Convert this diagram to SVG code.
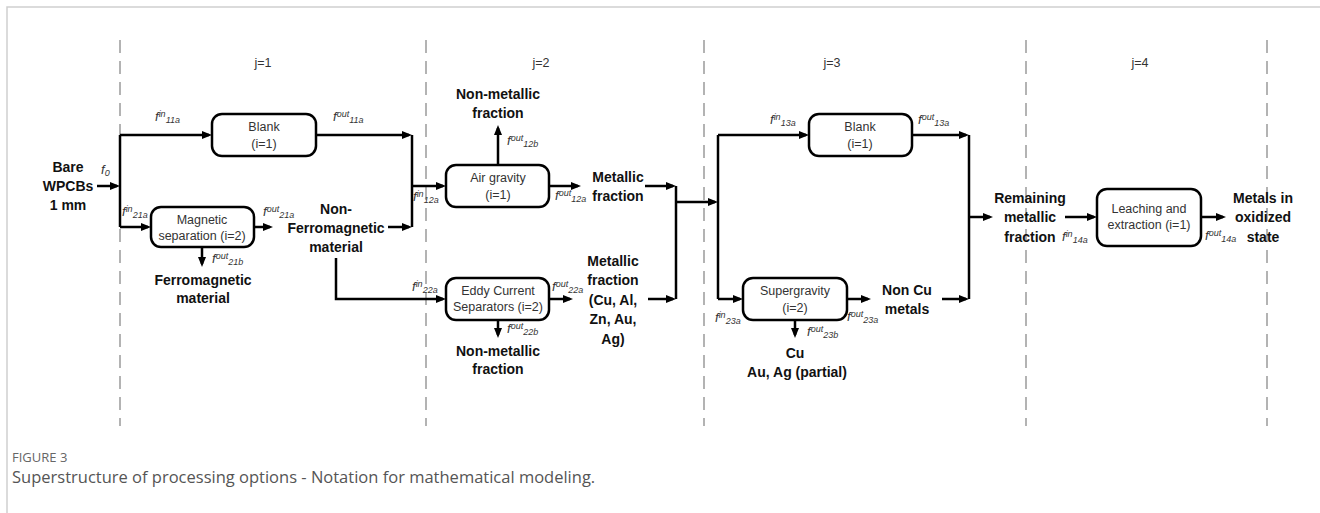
<svg xmlns="http://www.w3.org/2000/svg" width="1320" height="513" viewBox="0 0 1320 513">
<defs>
<marker id="ah" markerUnits="userSpaceOnUse" markerWidth="11" markerHeight="9" refX="7" refY="4" orient="auto">
<path d="M0,0 L10,4 L0,8 z" fill="#000"/>
</marker>
<style>
.frame{stroke:#cfcfcf;stroke-width:1.5;fill:none}
.dash{stroke:#b3b3b3;stroke-width:2;stroke-dasharray:13 8;fill:none}
.box{fill:#fff;stroke:#000;stroke-width:2.5}
.ln{stroke:#000;stroke-width:2.5;fill:none}
.arr{stroke:#000;stroke-width:2.5;fill:none;marker-end:url(#ah)}
.bt{font-family:"Liberation Sans",Arial,sans-serif;font-size:12.5px;fill:#333;text-anchor:middle}
.bold{font-family:"Liberation Sans",Arial,sans-serif;font-size:14px;font-weight:bold;fill:#111;text-anchor:middle}
.j{font-family:"Liberation Sans",Arial,sans-serif;font-size:12.5px;fill:#333;text-anchor:middle}
.f{font-family:"Liberation Sans",Arial,sans-serif;font-size:13px;font-style:italic;fill:#333}
.s{font-size:9px}
.cap1{font-family:"Open Sans","Liberation Sans",sans-serif;font-size:13px;fill:#666}
.cap2{font-family:"Open Sans","Liberation Sans",sans-serif;font-size:16.5px;fill:#555}
</style>
</defs>
<g id="frame">
<polyline class="frame" points="7,513 7,7 1320,7"/>
</g>
<g id="stages">
<line class="dash" x1="120" y1="40" x2="120" y2="426"/>
<line class="dash" x1="426" y1="40" x2="426" y2="426"/>
<line class="dash" x1="704" y1="40" x2="704" y2="426"/>
<line class="dash" x1="1026" y1="40" x2="1026" y2="426"/>
<line class="dash" x1="1267" y1="40" x2="1267" y2="426"/>
<text class="j" x="263" y="67">j=1</text>
<text class="j" x="541" y="67">j=2</text>
<text class="j" x="832" y="67">j=3</text>
<text class="j" x="1140" y="67">j=4</text>
</g>
<g id="connectors">
<line class="arr" x1="97" y1="186" x2="117" y2="186"/>
<polyline class="ln" points="120,135 120,227"/>
<line class="arr" x1="120" y1="135" x2="209" y2="135"/>
<line class="arr" x1="120" y1="227" x2="148" y2="227"/>
<line class="arr" x1="316" y1="135" x2="409" y2="135"/>
<line class="arr" x1="254" y1="227" x2="270" y2="227"/>
<line class="arr" x1="202" y1="247" x2="202" y2="264"/>
<line class="arr" x1="388" y1="227" x2="409" y2="227"/>
<polyline class="ln" points="412,135 412,227"/>
<line class="arr" x1="412" y1="186" x2="443" y2="186"/>
<polyline class="arr" points="336,258 336,299 443,299"/>
<line class="arr" x1="498" y1="165" x2="498" y2="128"/>
<line class="arr" x1="549" y1="186" x2="578" y2="186"/>
<line class="arr" x1="549" y1="299" x2="570" y2="299"/>
<line class="arr" x1="498" y1="320" x2="498" y2="335"/>
<line class="arr" x1="645" y1="186" x2="673" y2="186"/>
<line class="arr" x1="648" y1="299" x2="673" y2="299"/>
<polyline class="ln" points="676,186 676,299"/>
<line class="arr" x1="676" y1="202" x2="715" y2="202"/>
<polyline class="ln" points="718,135 718,299"/>
<line class="arr" x1="718" y1="135" x2="806" y2="135"/>
<line class="arr" x1="718" y1="299" x2="740" y2="299"/>
<line class="arr" x1="912" y1="135" x2="966" y2="135"/>
<line class="arr" x1="847" y1="299" x2="868" y2="299"/>
<line class="arr" x1="795" y1="320" x2="795" y2="335"/>
<line class="arr" x1="942" y1="299" x2="966" y2="299"/>
<polyline class="ln" points="969,135 969,299"/>
<line class="arr" x1="969" y1="217" x2="990" y2="217"/>
<line class="arr" x1="1065" y1="217" x2="1094" y2="217"/>
<line class="arr" x1="1201" y1="217" x2="1223" y2="217"/>
</g>
<g id="n_blank1">
<rect class="box" x="212" y="114" width="104" height="42" rx="10"/>
<text class="bt" x="264" y="131">Blank</text>
<text class="bt" x="264" y="148">(i=1)</text>
</g>
<g id="n_magnetic">
<rect class="box" x="151" y="207" width="103" height="40" rx="10"/>
<text class="bt" x="202" y="224">Magnetic</text>
<text class="bt" x="202" y="240">separation (i=2)</text>
</g>
<g id="n_air">
<rect class="box" x="446" y="165" width="103" height="42" rx="10"/>
<text class="bt" x="498" y="182">Air gravity</text>
<text class="bt" x="498" y="199">(i=1)</text>
</g>
<g id="n_eddy">
<rect class="box" x="446" y="278" width="103" height="42" rx="10"/>
<text class="bt" x="498" y="295">Eddy Current</text>
<text class="bt" x="498" y="311">Separators (i=2)</text>
</g>
<g id="n_blank3">
<rect class="box" x="809" y="114" width="103" height="42" rx="10"/>
<text class="bt" x="860" y="131">Blank</text>
<text class="bt" x="860" y="148">(i=1)</text>
</g>
<g id="n_super">
<rect class="box" x="743" y="278" width="104" height="42" rx="10"/>
<text class="bt" x="795" y="295">Supergravity</text>
<text class="bt" x="795" y="312">(i=2)</text>
</g>
<g id="n_leach">
<rect class="box" x="1097" y="189" width="104" height="57" rx="10"/>
<text class="bt" x="1149" y="213">Leaching and</text>
<text class="bt" x="1149" y="229">extraction (i=1)</text>
</g>
<g id="streams">
<text class="bold" x="68" y="172">Bare</text>
<text class="bold" x="68" y="191">WPCBs</text>
<text class="bold" x="68" y="210">1 mm</text>
<text class="bold" x="203" y="285">Ferromagnetic</text>
<text class="bold" x="203" y="303">material</text>
<text class="bold" x="336" y="214">Non-</text>
<text class="bold" x="336" y="233">Ferromagnetic</text>
<text class="bold" x="336" y="252">material</text>
<text class="bold" x="498" y="99">Non-metallic</text>
<text class="bold" x="498" y="118">fraction</text>
<text class="bold" x="618" y="182">Metallic</text>
<text class="bold" x="618" y="201">fraction</text>
<text class="bold" x="613" y="266">Metallic</text>
<text class="bold" x="613" y="285">fraction</text>
<text class="bold" x="613" y="305">(Cu, Al,</text>
<text class="bold" x="613" y="324">Zn, Au,</text>
<text class="bold" x="613" y="344">Ag)</text>
<text class="bold" x="498" y="356">Non-metallic</text>
<text class="bold" x="498" y="374">fraction</text>
<text class="bold" x="907" y="295">Non Cu</text>
<text class="bold" x="907" y="314">metals</text>
<text class="bold" x="795" y="358">Cu</text>
<text class="bold" x="797" y="377">Au, Ag (partial)</text>
<text class="bold" x="1030" y="203">Remaining</text>
<text class="bold" x="1030" y="222">metallic</text>
<text class="bold" x="1030" y="242">fraction</text>
<text class="bold" x="1263" y="203">Metals in</text>
<text class="bold" x="1263" y="222">oxidized</text>
<text class="bold" x="1263" y="242">state</text>
</g>
<g id="flow_labels">
<text class="f" x="101" y="174">f<tspan class="s" dy="2">0</tspan></text>
<text class="f" x="155" y="121">f<tspan class="s" dy="-4">in</tspan><tspan class="s" dy="6">11a</tspan></text>
<text class="f" x="333" y="121">f<tspan class="s" dy="-4">out</tspan><tspan class="s" dy="6">11a</tspan></text>
<text class="f" x="122" y="216">f<tspan class="s" dy="-4">in</tspan><tspan class="s" dy="6">21a</tspan></text>
<text class="f" x="263" y="216">f<tspan class="s" dy="-4">out</tspan><tspan class="s" dy="6">21a</tspan></text>
<text class="f" x="212" y="263">f<tspan class="s" dy="-4">out</tspan><tspan class="s" dy="6">21b</tspan></text>
<text class="f" x="413" y="201">f<tspan class="s" dy="-4">in</tspan><tspan class="s" dy="6">12a</tspan></text>
<text class="f" x="507" y="145">f<tspan class="s" dy="-4">out</tspan><tspan class="s" dy="6">12b</tspan></text>
<text class="f" x="555" y="200">f<tspan class="s" dy="-4">out</tspan><tspan class="s" dy="6">12a</tspan></text>
<text class="f" x="412" y="291">f<tspan class="s" dy="-4">in</tspan><tspan class="s" dy="6">22a</tspan></text>
<text class="f" x="552" y="291">f<tspan class="s" dy="-4">out</tspan><tspan class="s" dy="6">22a</tspan></text>
<text class="f" x="507" y="333">f<tspan class="s" dy="-4">out</tspan><tspan class="s" dy="6">22b</tspan></text>
<text class="f" x="770" y="124">f<tspan class="s" dy="-4">in</tspan><tspan class="s" dy="6">13a</tspan></text>
<text class="f" x="918" y="124">f<tspan class="s" dy="-4">out</tspan><tspan class="s" dy="6">13a</tspan></text>
<text class="f" x="715" y="322">f<tspan class="s" dy="-4">in</tspan><tspan class="s" dy="6">23a</tspan></text>
<text class="f" x="847" y="321">f<tspan class="s" dy="-4">out</tspan><tspan class="s" dy="6">23a</tspan></text>
<text class="f" x="807" y="336">f<tspan class="s" dy="-4">out</tspan><tspan class="s" dy="6">23b</tspan></text>
<text class="f" x="1062" y="241">f<tspan class="s" dy="-4">in</tspan><tspan class="s" dy="6">14a</tspan></text>
<text class="f" x="1205" y="240">f<tspan class="s" dy="-4">out</tspan><tspan class="s" dy="6">14a</tspan></text>
</g>
<g id="caption">
<text class="cap1" x="12" y="462">FIGURE 3</text>
<text class="cap2" x="12" y="483">Superstructure of processing options - Notation for mathematical modeling.</text>
</g>
</svg>
